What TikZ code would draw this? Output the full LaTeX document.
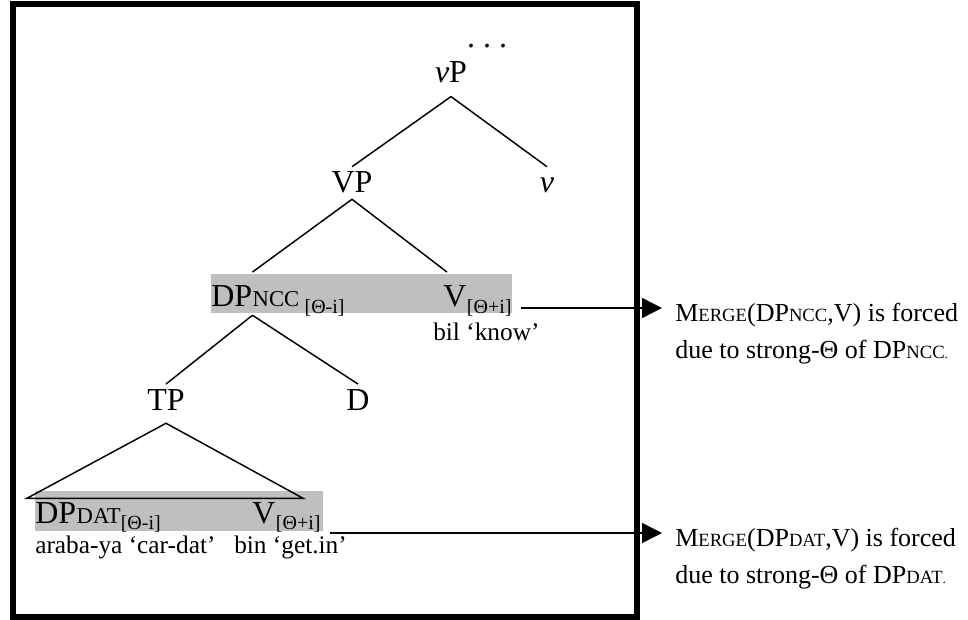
\documentclass[tikz,border=0pt]{standalone}
\usepackage{fontspec}
\setmainfont{Liberation Serif}
\usetikzlibrary{arrows.meta}

\newcommand{\fsc}[1]{{\fontsize{17}{17}\selectfont #1}}
\newcommand{\nsc}[1]{{\fontsize{14}{14}\selectfont #1}}
\newcommand{\thsub}[1]{\raisebox{-5pt}{\fontsize{15}{15}\selectfont[#1]}}

\tikzset{
  lab/.style={font=\fontsize{24}{24}\selectfont, inner sep=0pt, text height=16pt, text depth=0pt},
  feat/.style={lab, anchor=base west},
  gloss/.style={font=\fontsize{19}{19}\selectfont, inner sep=0pt, anchor=base west},
  note/.style={font=\fontsize{19.5}{27.75}\selectfont, inner sep=0pt, align=left, anchor=north west},
  branch/.style={line width=1.1pt},
  shade/.style={fill=gray!50},
  arr/.style={line width=1.1pt, -{Triangle[length=15pt,width=15pt]}, shorten <=7pt}
}

\begin{document}
\begin{tikzpicture}[x=0.75pt, y=-0.75pt]
  \useasboundingbox (0,0) rectangle (968,620);

  % Frame round the tree
  \draw[line width=4.5pt] (13,4) rectangle (637,617);

  % Grey bars behind the merged pairs
  \fill[shade] (211,274) rectangle (512,313);
  \fill[shade] (35,491) rectangle (323,531);

  % Upper part of the tree
  \node[lab, anchor=base] (dots) at (487,48) {.\ .\ .};
  \node[lab, anchor=base] (vP) at (451,83) {\textit{v}P};
  \node[lab, anchor=base] (VP) at (352,193) {VP};
  \node[lab, anchor=base] (v) at (547,193) {\textit{v}};

  \draw[branch] ([yshift=-10pt]vP.south) -- ([yshift=3.5pt]VP.north);
  \draw[branch] ([yshift=-10pt]vP.south) -- ([yshift=3.5pt]v.north);

  % First merged pair: DP and bil
  \node[lab, anchor=base west] (DPncc) at (211,307) {DP};
  \node[feat] (fDP1) at (DPncc.base east) {\fsc{NCC}\,\thsub{Θ-i}};
  \node[lab, anchor=base west] (Vncc) at (443,307) {V};
  \node[feat] (fV1) at (Vncc.base east) {\thsub{Θ+i}};
  \node[gloss] (bil) at (433,341) {bil ‘know’};

  \draw[branch] ([yshift=-4.5pt]VP.south) -- ([yshift=10pt]DPncc.north east);
  \draw[branch] ([yshift=-4.5pt]VP.south) -- ([xshift=3pt, yshift=10pt]Vncc.north west);

  % TP and D under the DP
  \node[lab, anchor=base] (TP) at (166,411) {TP};
  \node[lab, anchor=base] (D) at (358,411) {D};

  \draw[branch] ([yshift=-6pt]DPncc.south east) -- ([yshift=4pt]TP.north);
  \draw[branch] ([yshift=-6pt]DPncc.south east) -- ([yshift=4pt]D.north);

  % Second merged pair under the TP triangle
  \node[lab, anchor=base west] (DPdat) at (35,523) {DP};
  \node[feat] (fDP2) at (DPdat.base east) {\fsc{DAT}\thsub{Θ-i}};
  \node[lab, anchor=base west] (Vdat) at (252,523) {V};
  \node[feat] (fV2) at (Vdat.base east) {\thsub{Θ+i}};
  \node[gloss] (araba) at (35,553) {araba-ya ‘car-dat’};
  \node[gloss] (bin) at (234,553) {bin ‘get.in’};

  \draw[branch] ([yshift=-9pt]TP.south) -- ++(-139,75) -- ++(276,0) -- cycle;

  % Notes on the right
  \node[note] (note1) at (675,303) {M\nsc{ERGE}(DP\nsc{NCC},V) is forced\\due to strong-Θ of DP\nsc{NCC}{\fontsize{10}{10}\selectfont .}};
  \node[note] (note2) at (675,528) {M\nsc{ERGE}(DP\nsc{DAT},V) is forced\\due to strong-Θ of DP\nsc{DAT}{\fontsize{10}{10}\selectfont .}};

  % Arrows from the merged pairs to the notes
  \coordinate (tip1) at (662,308);
  \coordinate (tip2) at (662,533);
  \draw[arr] (fV1.east |- tip1) -- (tip1);
  \draw[arr] (fV2.east |- tip2) -- (tip2);
\end{tikzpicture}
\end{document}
